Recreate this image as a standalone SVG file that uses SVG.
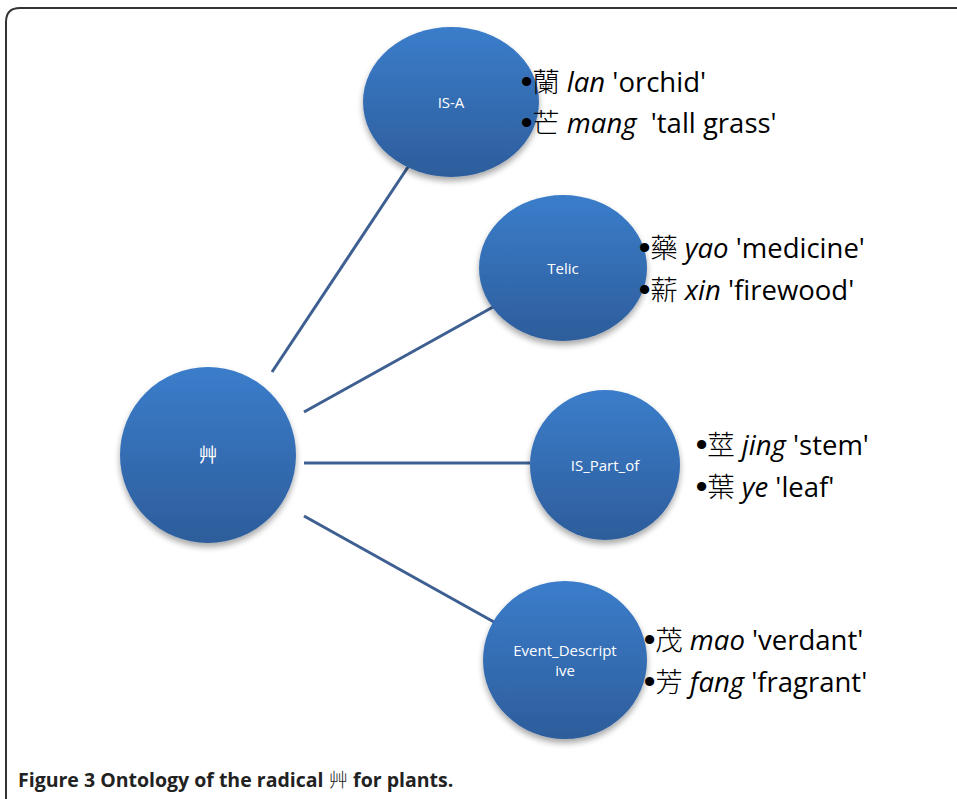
<svg xmlns="http://www.w3.org/2000/svg" width="957" height="799" viewBox="0 0 957 799">
<defs>
<linearGradient id="g" x1="0" y1="0" x2="0" y2="1">
<stop offset="0" stop-color="#3b7dcb"/>
<stop offset="1" stop-color="#2d5d9b"/>
</linearGradient>
<filter id="sh" x="-20%" y="-20%" width="140%" height="150%">
<feGaussianBlur in="SourceAlpha" stdDeviation="3"/>
<feOffset dx="0" dy="4"/>
<feComponentTransfer><feFuncA type="linear" slope="0.35"/></feComponentTransfer>
<feMerge><feMergeNode/><feMergeNode in="SourceGraphic"/></feMerge>
</filter>
</defs>
<style>
.node{fill:url(#g);filter:url(#sh);}
.nl{fill:#ffffff;font-family:"Open Sans","Noto Sans","Noto Sans CJK SC",sans-serif;font-size:15px;text-anchor:middle;}
.rl{fill:#ffffff;font-family:"Noto Sans CJK TC","Noto Sans CJK SC",sans-serif;font-size:19px;text-anchor:middle;}
.it{font-family:"Open Sans","Noto Sans","Noto Sans CJK TC",sans-serif;font-size:27.5px;fill:#000;}
.cj{font-family:"Noto Sans CJK TC","Noto Sans CJK SC",sans-serif;font-weight:300;}
.b{font-family:"Liberation Sans",sans-serif;font-size:32px;font-weight:bold;}
.conn{stroke:#3d5f91;stroke-width:3;fill:none;}
.cap{font-family:"Open Sans","Noto Sans","Noto Sans CJK SC",sans-serif;font-size:19.5px;font-weight:bold;fill:#222;}
</style>
<rect x="0" y="0" width="957" height="799" fill="#ffffff"/>
<path d="M6,799 L6,22 Q6,8 20,8 L960,8" fill="none" stroke="#333" stroke-width="2"/>
<g id="connectors">
<line class="conn" x1="272" y1="372" x2="408" y2="167"/>
<line class="conn" x1="304" y1="412" x2="493" y2="307"/>
<line class="conn" x1="304" y1="463" x2="530" y2="463"/>
<line class="conn" x1="304" y1="516" x2="494" y2="622"/>
</g>
<g id="root">
<ellipse class="node" cx="208" cy="455" rx="88" ry="88"/>
<text class="rl" x="208" y="462">艸</text>
</g>
<g id="isa">
<ellipse class="node" cx="451" cy="102" rx="88" ry="75"/>
<text class="nl" x="451" y="108">IS-A</text>
<text class="it" x="521" y="92"><tspan class="b">•</tspan><tspan class="cj">蘭</tspan> <tspan font-style="italic">lan</tspan> 'orchid'</text>
<text class="it" x="521" y="133" xml:space="preserve"><tspan class="b">•</tspan><tspan class="cj">芒</tspan> <tspan font-style="italic">mang</tspan>&#160; 'tall grass'</text>
</g>
<g id="telic">
<ellipse class="node" cx="563" cy="268" rx="84" ry="73"/>
<text class="nl" x="563" y="274">Telic</text>
<text class="it" x="639" y="258"><tspan class="b">•</tspan><tspan class="cj">藥</tspan> <tspan font-style="italic">yao</tspan> 'medicine'</text>
<text class="it" x="639" y="300"><tspan class="b">•</tspan><tspan class="cj">薪</tspan> <tspan font-style="italic">xin</tspan> 'firewood'</text>
</g>
<g id="ispartof">
<ellipse class="node" cx="605" cy="465" rx="75" ry="75"/>
<text class="nl" x="605" y="471">IS_Part_of</text>
<text class="it" x="696" y="455"><tspan class="b">•</tspan><tspan class="cj">莖</tspan> <tspan font-style="italic">jing</tspan> 'stem'</text>
<text class="it" x="696" y="497"><tspan class="b">•</tspan><tspan class="cj">葉</tspan> <tspan font-style="italic">ye</tspan> 'leaf'</text>
</g>
<g id="event">
<ellipse class="node" cx="565" cy="660" rx="82" ry="79"/>
<text class="nl" x="565" y="656">Event_Descript</text>
<text class="nl" x="565" y="676">ive</text>
<text class="it" x="644" y="650"><tspan class="b">•</tspan><tspan class="cj">茂</tspan> <tspan font-style="italic">mao</tspan> 'verdant'</text>
<text class="it" x="644" y="692"><tspan class="b">•</tspan><tspan class="cj">芳</tspan> <tspan font-style="italic">fang</tspan> 'fragrant'</text>
</g>
<text class="cap" x="18" y="787">Figure 3 Ontology of the radical <tspan class="cj" font-weight="normal">艸</tspan> for plants.</text>
</svg>
